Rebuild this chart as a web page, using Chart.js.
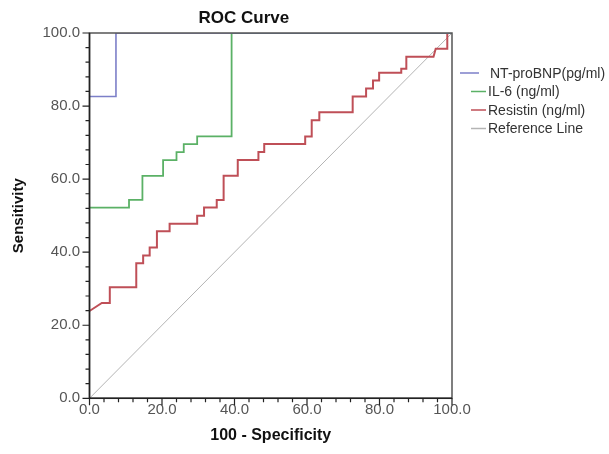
<!DOCTYPE html>
<html>
<head>
<meta charset="utf-8">
<script src="https://cdn.jsdelivr.net/npm/chart.js@4/dist/chart.umd.min.js"></script>
<style>
  html, body { margin: 0; padding: 0; background: #fff; }
  #wrap { width: 609px; height: 454px; position: relative; }
</style>
</head>
<body>
<div id="wrap"><canvas id="chart"></canvas></div>
<script>
// values (x = 100 - specificity, y = sensitivity)
const seriesNames = ['NT-proBNP(pg/ml)', 'IL-6 (ng/ml)', 'Resistin (ng/ml)', 'Reference Line'];

const bnpX = [0, 7.3, 7.3, 100];
const bnpY = [82.6, 82.6, 100, 100];

const il6X = [0, 10.9, 10.9, 14.6, 14.6, 20.3, 20.3, 24.0, 24.0, 26.0, 26.0, 29.7, 29.7, 39.2, 39.2, 100];
const il6Y = [52.2, 52.2, 54.3, 54.3, 60.9, 60.9, 65.2, 65.2, 67.4, 67.4, 69.6, 69.6, 71.7, 71.7, 100, 100];

const resX = [0, 3.4, 5.6, 5.6, 12.9, 12.9, 14.8, 14.8, 16.6, 16.6, 18.6, 18.6, 22.1, 22.1, 29.7, 29.7,
  31.6, 31.6, 35.1, 35.1, 37.0, 37.0, 40.9, 40.9, 46.6, 46.6, 48.2, 48.2, 59.5, 59.5, 61.3, 61.3,
  63.4, 63.4, 72.6, 72.6, 76.3, 76.3, 78.2, 78.2, 79.9, 79.9, 86.0, 86.0, 87.4, 87.4, 94.9, 95.5,
  98.7, 98.7, 100];
const resY = [23.9, 26.1, 26.1, 30.4, 30.4, 37.0, 37.0, 39.1, 39.1, 41.3, 41.3, 45.7, 45.7, 47.8, 47.8, 50.0,
  50.0, 52.2, 52.2, 54.3, 54.3, 60.9, 60.9, 65.2, 65.2, 67.4, 67.4, 69.6, 69.6, 71.7, 71.7, 76.1,
  76.1, 78.3, 78.3, 82.6, 82.6, 84.8, 84.8, 87.0, 87.0, 89.1, 89.1, 90.2, 90.2, 93.5, 93.5, 95.7,
  95.7, 100, 100];

const refX = [0, 100];
const refY = [0, 100];

const tickValues = [0, 20, 40, 60, 80, 100];

const colors = ['#7c7fc8', '#5bb166', '#bf4f57', '#b4b4b4'];
const FONT = "'Liberation Sans', Arial, sans-serif";

function toPoints(xs, ys) {
  return xs.map((x, i) => ({x: x, y: ys[i]}));
}

// frame, tick marks, title and legend, drawn over the lines
const extras = {
  id: 'extras',
  afterDatasetsDraw(chart) {
    const ctx = chart.ctx;
    const a = chart.chartArea;
    const xs = chart.scales.x;
    const ys = chart.scales.y;
    ctx.save();

    // plot frame
    ctx.strokeStyle = '#555';
    ctx.lineWidth = 1.5;
    ctx.strokeRect(a.left, a.top, a.right - a.left, a.bottom - a.top);
    ctx.strokeStyle = '#222';
    ctx.beginPath();
    ctx.moveTo(a.left, a.top);
    ctx.lineTo(a.left, a.bottom);
    ctx.lineTo(a.right, a.bottom);
    ctx.stroke();

    // major + minor ticks
    ctx.lineWidth = 1.2;
    ctx.beginPath();
    for (let v = 0; v <= 100; v += 4) {
      const len = v % 20 === 0 ? 7 : 4;
      const px = xs.getPixelForValue(v);
      ctx.moveTo(px, a.bottom);
      ctx.lineTo(px, a.bottom + len);
      const py = ys.getPixelForValue(v);
      ctx.moveTo(a.left - len, py);
      ctx.lineTo(a.left, py);
    }
    ctx.stroke();

    // chart title
    ctx.fillStyle = '#111';
    ctx.font = 'bold 17px ' + FONT;
    ctx.textAlign = 'center';
    ctx.textBaseline = 'middle';
    ctx.fillText('ROC Curve', a.left + (a.right - a.left) * 0.426, 18);

    // legend
    ctx.font = '14px ' + FONT;
    ctx.textAlign = 'left';
    chart.data.datasets.forEach((ds, i) => {
      const yy = a.top + 40 + i * 18.5;
      const x0 = i === 0 ? a.right + 8 : a.right + 19;
      const x1 = i === 0 ? a.right + 27 : a.right + 34;
      const tx = i === 0 ? a.right + 38 : a.right + 36;
      ctx.strokeStyle = ds.borderColor;
      ctx.lineWidth = 1.5;
      ctx.beginPath();
      ctx.moveTo(x0, yy);
      ctx.lineTo(x1, yy);
      ctx.stroke();
      ctx.fillStyle = '#333';
      ctx.fillText(ds.label, tx, yy + 1);
    });

    ctx.restore();
  }
};

const datasets = [
  {label: seriesNames[0], data: toPoints(bnpX, bnpY), borderColor: colors[0], borderWidth: 1.6},
  {label: seriesNames[1], data: toPoints(il6X, il6Y), borderColor: colors[1], borderWidth: 1.8},
  {label: seriesNames[2], data: toPoints(resX, resY), borderColor: colors[2], borderWidth: 2},
  {label: seriesNames[3], data: toPoints(refX, refY), borderColor: colors[3], borderWidth: 1}
];
datasets.forEach(d => {
  d.pointRadius = 0;
  d.tension = 0;
  d.fill = false;
});

new Chart(document.getElementById('chart'), {
  type: 'line',
  data: {datasets: datasets},
  plugins: [extras],
  options: {
    responsive: true,
    maintainAspectRatio: false,
    animation: false,
    layout: {padding: {top: 33, right: 157, bottom: 0, left: 0}},
    plugins: {
      legend: {display: false},
      tooltip: {enabled: false}
    },
    scales: {
      x: {
        type: 'linear',
        min: 0,
        max: 100,
        afterBuildTicks: s => { s.ticks = tickValues.map(v => ({value: v})); },
        afterFit: s => { s.height = 55.7; },
        grid: {display: false, drawTicks: false},
        border: {display: false},
        ticks: {
          padding: 3,
          color: '#555',
          font: {family: FONT, size: 15},
          callback: v => v.toFixed(1),
          maxRotation: 0
        },
        title: {
          display: true,
          text: '100 - Specificity',
          color: '#111',
          font: {family: FONT, size: 16, weight: 'bold'},
          padding: {top: 0, bottom: 9}
        }
      },
      y: {
        type: 'linear',
        min: 0,
        max: 100,
        afterBuildTicks: s => { s.ticks = tickValues.map(v => ({value: v})); },
        afterFit: s => { s.width = 89.5; },
        grid: {display: false, drawTicks: false},
        border: {display: false},
        ticks: {
          padding: 9.5,
          color: '#555',
          font: {family: FONT, size: 15},
          callback: v => v.toFixed(1)
        },
        title: {
          display: true,
          text: 'Sensitivity',
          color: '#111',
          font: {family: FONT, size: 15, weight: 'bold'},
          padding: {top: 9.5, bottom: 0}
        }
      }
    }
  }
});
</script>
</body>
</html>
